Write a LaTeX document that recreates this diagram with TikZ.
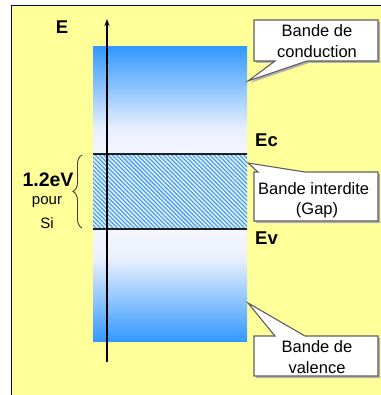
\documentclass[tikz,border=0pt]{standalone}
\usepackage{fontspec}
\setmainfont{Liberation Sans}
\usetikzlibrary{patterns.meta,decorations.pathreplacing,arrows.meta}
\definecolor{bgyellow}{RGB}{255,255,153}
\definecolor{framecol}{RGB}{0,0,110}
\definecolor{bandblue}{RGB}{51,153,255}
\definecolor{bandlight}{RGB}{234,240,253}
\definecolor{bandwhite}{RGB}{246,248,255}
\definecolor{hatchbase}{RGB}{228,240,252}
\definecolor{hatchblue}{RGB}{72,160,236}
\definecolor{calloutgray}{RGB}{95,95,95}
\pgfdeclareverticalshading{bandshade}{100bp}{color(0bp)=(bandblue); color(25bp)=(bandblue); color(39bp)=(bandlight); color(45bp)=(bandwhite); color(55bp)=(bandwhite); color(61bp)=(bandlight); color(75bp)=(bandblue); color(100bp)=(bandblue)}
\begin{document}
\begin{tikzpicture}[x=1pt,y=-1pt,
  lbl/.style={font=\fontsize{18.5}{20}\selectfont\bfseries, inner sep=0},
  gaptxt/.style={font=\fontsize{15}{18}\selectfont, inner sep=0},
  txt/.style={font=\fontsize{16.5}{21}\selectfont, inner sep=0, align=center},
  callout/.style={fill=white, draw=calloutgray, line width=1.1pt, line join=miter},
  cshadow/.style={fill=black!30},
  level/.style={line width=2.4pt, draw=black!88},
]
\useasboundingbox (0,0) rectangle (380,395);
\fill[white] (0,0) rectangle (380,395);
\draw[fill=bgyellow, draw=framecol, line width=1pt] (11.5,6) rectangle (400,410);
% energy bands
\shade[shading=bandshade] (93,47) rectangle (247,341);
% gap
\fill[hatchbase] (93,154) rectangle (247,229);
\fill[pattern={Lines[angle=-45,distance=3pt,line width=1.25pt]}, pattern color=hatchblue] (93,154) rectangle (247,229);
\coordinate (ecL) at (93,154);
\coordinate (ecR) at (247,154);
\coordinate (evL) at (93,229);
\coordinate (evR) at (247,229);
\draw[level] (ecL) -- (ecR);
\draw[level] (evL) -- (evR);
% axis
\coordinate (axB) at (107,362);
\coordinate (axT) at (107,19);
\draw[-{Stealth[length=7pt,width=5pt]}, line width=1.3pt] (axB) -- (axT);
\node[lbl] (E) at (62,27) {E};
\node[lbl, anchor=west] (Ec) at (255,140) {Ec};
\node[lbl, anchor=west] (Ev) at (255,238) {Ev};
% brace
\coordinate (brB) at (82,228);
\coordinate (brT) at (82,155);
\draw[decorate, decoration={brace, amplitude=9pt}, line width=0.9pt, draw=black!75] (brB) -- (brT);
\node[lbl, font=\fontsize{19.5}{20}\selectfont\bfseries] (gapv) at (48,180) {1.2eV};
\node[gaptxt] (pour) at (47,202) {pour};
\node[gaptxt] (si) at (47,223) {Si};
% callout: conduction
\fill[cshadow] (256,22) -- (380,22) -- (380,63) -- (309,63) -- (250,83) -- (277,63) -- (256,63) -- cycle;
\path[callout] (254,20) -- (378,20) -- (378,61) -- (307,61) -- (248,81) -- (275,61) -- (254,61) -- cycle;
\node[txt] (cond) at (317,41) {Bande de\\conduction};
% callout: gap
\fill[cshadow] (256,223) -- (256,174) -- (260,174) -- (250,165) -- (307,174) -- (380,174) -- (380,223) -- cycle;
\path[callout] (254,221) -- (254,172) -- (258,172) -- (248,163) -- (305,172) -- (378,172) -- (378,221) -- cycle;
\node[txt, anchor=west] (interdite) at (258,189) {Bande interdite};
\node[txt] (gap) at (317,210) {(Gap)};
% callout: valence
\fill[cshadow] (256,378) -- (256,338) -- (277,338) -- (250,305) -- (307,338) -- (380,338) -- (380,378) -- cycle;
\path[callout] (254,376) -- (254,336) -- (275,336) -- (248,303) -- (305,336) -- (378,336) -- (378,376) -- cycle;
\node[txt] (val) at (317,357) {Bande de\\valence};
\end{tikzpicture}
\end{document}
